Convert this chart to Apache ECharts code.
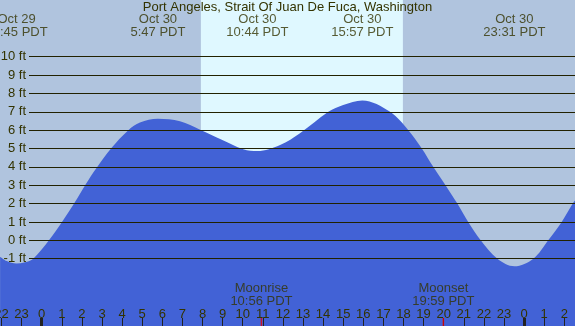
<!DOCTYPE html>
<html>
<head>
<meta charset="utf-8">
<title>Port Angeles tide</title>
<script src="https://cdn.jsdelivr.net/npm/echarts@6/dist/echarts.min.js"></script>
<style>html,body{margin:0;padding:0;background:#b0c4de;} #main{width:575px;height:326px;}</style>
</head>
<body>
<div id="main"></div>
<script>
// tide height in ft; hours counted from Oct 30 00:00 PDT
var tideHours = [-2.07, -1.74, -1.25, -0.83, -0.42, 0.36, 1.01, 1.61, 2.16, 2.77, 3.45, 4.31, 4.89, 5.78, 6.88, 7.88, 8.96, 10.03, 10.73,
                 11.86, 12.85, 14.26, 15.0, 15.95, 17.33, 18.24, 18.91, 19.48, 20.09, 20.68, 21.22, 21.84, 22.67, 23.52,
                 24.46, 25.2, 25.87, 26.42, 26.6];
var tideFeet  = [-0.89, -1.13, -1.27, -1.2, -1.0, 0.0, 1.0, 2.0, 3.0, 4.0, 5.0, 6.0, 6.41, 6.62, 6.48, 6.02, 5.48, 4.96, 4.86,
                 5.19, 5.83, 7.0, 7.37, 7.62, 7.0, 6.0, 5.0, 4.0, 3.0, 2.0, 1.0, 0.0, -1.0, -1.41,
                 -1.0, 0.0, 1.0, 2.0, 2.25];

// highs / lows
var eventHours = [-1.25, 5.783, 10.733, 15.95, 23.517];
var eventDays  = ['Oct 29', 'Oct 30', 'Oct 30', 'Oct 30', 'Oct 30'];
var eventTimes = ['22:45 PDT', '5:47 PDT', '10:44 PDT', '15:57 PDT', '23:31 PDT'];

var sunrise = 7.92, sunset = 17.97;

var moonHours = [10.933, 19.983];
var moonNames = ['Moonrise', 'Moonset'];
var moonTimes = ['10:56 PDT', '19:59 PDT'];

var ftMin = -1, ftMax = 10;

// pixel layout of the picture
var W = 575, H = 326;
var x0 = 41.7, pxHour = 20.1;   // x of 00:00, px per hour
var y0 = 240.3, pxFt = 18.36;   // y of 0 ft, px per ft
var yMin = (y0 - H) / pxFt, yMax = y0 / pxFt;

var txt = '#333300';
var font = "'Liberation Sans', Arial, sans-serif";

var tide = [];
for (var i = 0; i < tideHours.length; i++) tide.push([tideHours[i], tideFeet[i]]);
var events = [];
for (var i = 0; i < eventHours.length; i++) events.push({value: [eventHours[i], yMax], name: eventDays[i] + '\n' + eventTimes[i]});
var moons = [];
for (var i = 0; i < moonHours.length; i++) moons.push({value: [moonHours[i], yMin], name: moonNames[i] + '\n' + moonTimes[i]});

var myChart = echarts.init(document.getElementById('main'), null, {renderer: 'canvas'});
var option = {
    animation: false,
    backgroundColor: '#b0c4de',
    textStyle: {fontFamily: font},
    title: {
        text: 'Port Angeles, Strait Of Juan De Fuca, Washington',
        left: 'center', top: 1, padding: 0,
        textStyle: {fontSize: 13, fontWeight: 'normal', color: txt, fontFamily: font}
    },
    grid: [
        {left: x0 - 3 * pxHour, right: W - (x0 + 27 * pxHour), top: 0, bottom: 0, outerBoundsMode: 'none'},
        {left: 29, right: 0, top: y0 - ftMax * pxFt, bottom: H - (y0 - ftMin * pxFt), outerBoundsMode: 'none'},
        {left: x0 - 24 * pxHour, right: W - (x0 + 48 * pxHour), top: 0, bottom: 0, outerBoundsMode: 'none'}
    ],
    xAxis: [
        {
            type: 'value', gridIndex: 0, min: -3, max: 27, interval: 1, z: 5,
            axisLine: {show: false, onZero: false},
            splitLine: {show: false},
            axisTick: {inside: true, length: 8, lineStyle: {color: '#222', width: 1}},
            axisLabel: {
                inside: true, margin: 5.5, fontSize: 13, color: txt, fontFamily: font,
                formatter: function (v) { return ((v % 24) + 24) % 24; }
            }
        },
        {type: 'value', gridIndex: 1, show: false, min: 0, max: 1},
        {
            type: 'value', gridIndex: 2, min: -24, max: 48, interval: 24, z: 5,
            axisLine: {show: false, onZero: false}, splitLine: {show: false}, axisLabel: {show: false},
            axisTick: {inside: true, length: 8, lineStyle: {color: '#222', width: 3}}
        }
    ],
    yAxis: [
        {type: 'value', gridIndex: 0, min: yMin, max: yMax, show: false},
        {
            type: 'value', gridIndex: 1, min: ftMin, max: ftMax, interval: 1, z: 5,
            axisLine: {show: false}, axisTick: {show: false},
            splitLine: {show: true, lineStyle: {color: '#222200', width: 1}},
            axisLabel: {margin: 3, fontSize: 13, color: txt, fontFamily: font, formatter: '{value} ft'}
        },
        {type: 'value', gridIndex: 2, min: 0, max: 1, show: false}
    ],
    series: [
        {
            type: 'line', xAxisIndex: 0, yAxisIndex: 0,
            data: tide, smooth: 0.35, symbol: 'none',
            lineStyle: {width: 0},
            areaStyle: {color: '#4262d6', opacity: 1, origin: 'start'},
            markArea: {
                silent: true,
                itemStyle: {color: '#dff8ff'},
                data: [[{xAxis: sunrise}, {xAxis: sunset}]]
            }
        },
        {
            type: 'scatter', xAxisIndex: 0, yAxisIndex: 0, z: 6,
            data: events, symbolSize: 0,
            label: {
                show: true, position: 'bottom', distance: 13,
                formatter: '{b}', fontSize: 13, lineHeight: 13, color: txt, fontFamily: font
            }
        },
        {
            type: 'scatter', xAxisIndex: 0, yAxisIndex: 0, z: 6,
            data: moons, symbolSize: 0,
            label: {
                show: true, position: 'top', distance: 18,
                formatter: '{b}', fontSize: 13, lineHeight: 13, color: txt, fontFamily: font
            }
        },
        {
            type: 'scatter', xAxisIndex: 0, yAxisIndex: 0, z: 6,
            data: moonHours.map(function (h) { return [h, yMin]; }),
            symbol: 'rect', symbolSize: [1.5, 8], symbolOffset: [0, -4],
            itemStyle: {color: '#ee0000'}
        }
    ]
};
myChart.setOption(option);
</script>
</body>
</html>
